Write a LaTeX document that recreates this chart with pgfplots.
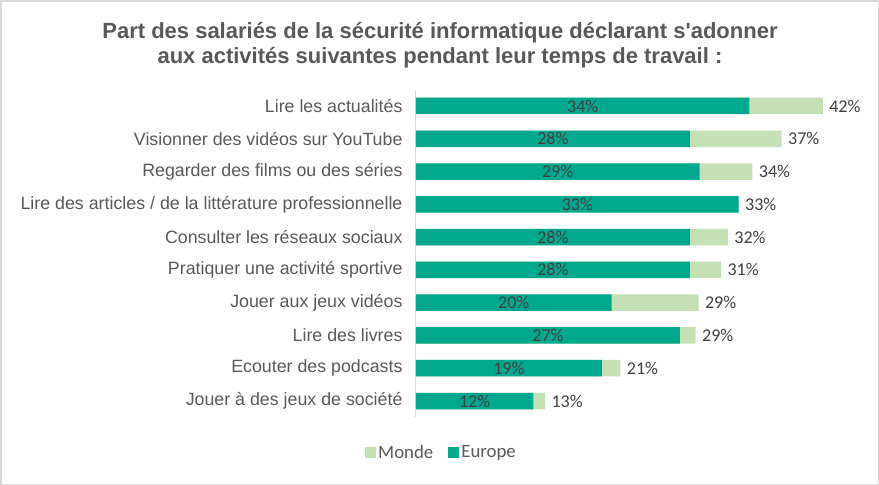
\documentclass[border=0pt]{standalone}
\usepackage{pgfplots}
\pgfplotsset{compat=1.18}
\usepackage{fontspec}
\setmainfont{Liberation Sans}
\newfontfamily\calfont{Carlito}
\definecolor{teal1}{HTML}{00A88E}
\definecolor{lgreen}{HTML}{C5E0B4}
\definecolor{txt}{HTML}{595959}
\definecolor{lbl}{HTML}{404040}
\definecolor{frame}{HTML}{D9D9D9}
\begin{document}
\begin{tikzpicture}[x=1pt,y=1pt]
\draw[frame, line width=1.5pt] (0.75,-0.75) rectangle (878.25,-484.25);
\node[font=\fontsize{22}{25}\selectfont\bfseries, text=txt, align=center] at (440,-45.5)
  {Part des salariés de la sécurité informatique déclarant s\textquotesingle adonner\\aux activités suivantes pendant leur temps de travail :};
\begin{axis}[
  at={(416pt,-417.4pt)}, anchor=south west,
  scale only axis, width=440pt, height=327.8pt,
  xbar, bar width=16.5pt, bar shift=0pt,
  xmin=0, xmax=45,
  ymin=-0.5, ymax=9.5, y dir=reverse,
  axis x line=none,
  axis y line*=left,
  y axis line style={frame, line width=1pt, -},
  ytick={0,...,9},
  yticklabels={Lire les actualités,Visionner des vidéos sur YouTube,Regarder des films ou des séries,Lire des articles / de la littérature professionnelle,Consulter les réseaux sociaux,Pratiquer une activité sportive,Jouer aux jeux vidéos,Lire des livres,Ecouter des podcasts,Jouer à des jeux de société},
  yticklabel style={font=\fontsize{17.8}{20}\selectfont, text=txt, xshift=-10pt},
  major tick length=0pt,
  /pgf/number format/assume math mode=true,
  legend style={at={(0.058,-0.107)}, anchor=center, draw=none, fill=none,
    legend columns=2, font=\calfont\fontsize{18.8}{20}\selectfont, text=txt,
    /tikz/every even column/.append style={column sep=13pt}},
  legend image code/.code={\fill[#1, draw=none] (0pt,-5.5pt) rectangle (11pt,5.5pt);},
  legend cell align=left,
]
\addplot[fill=lgreen, draw=none,
  nodes near coords={\pgfmathprintnumber[fixed,precision=0]{\pgfplotspointmeta}\%},
  every node near coord/.append style={anchor=west, xshift=3pt, font=\calfont\fontsize{18}{20}\selectfont, text=lbl},
  point meta=x] coordinates {
(41.6,0) (37.4,1) (34.4,2) (33.0,3) (31.9,4) (31.2,5) (28.9,6) (28.6,7) (20.9,8) (13.2,9)};
\addlegendentry{Monde}
\addplot[fill=teal1, draw=none,
  visualization depends on={x \as \xv},
  nodes near coords={\pgfmathprintnumber[fixed,precision=0]{\pgfplotspointmeta}\%},
  every node near coord/.append style={anchor=center, shift={(axis direction cs:-\xv/2,0)}, font=\calfont\fontsize{18}{20}\selectfont, text=lbl},
  point meta=x] coordinates {
(34.1,0) (28.0,1) (29.0,2) (33.0,3) (28.0,4) (28.0,5) (20.0,6) (27.0,7) (19.0,8) (12.0,9)};
\addlegendentry{Europe}
\end{axis}
\end{tikzpicture}
\end{document}
